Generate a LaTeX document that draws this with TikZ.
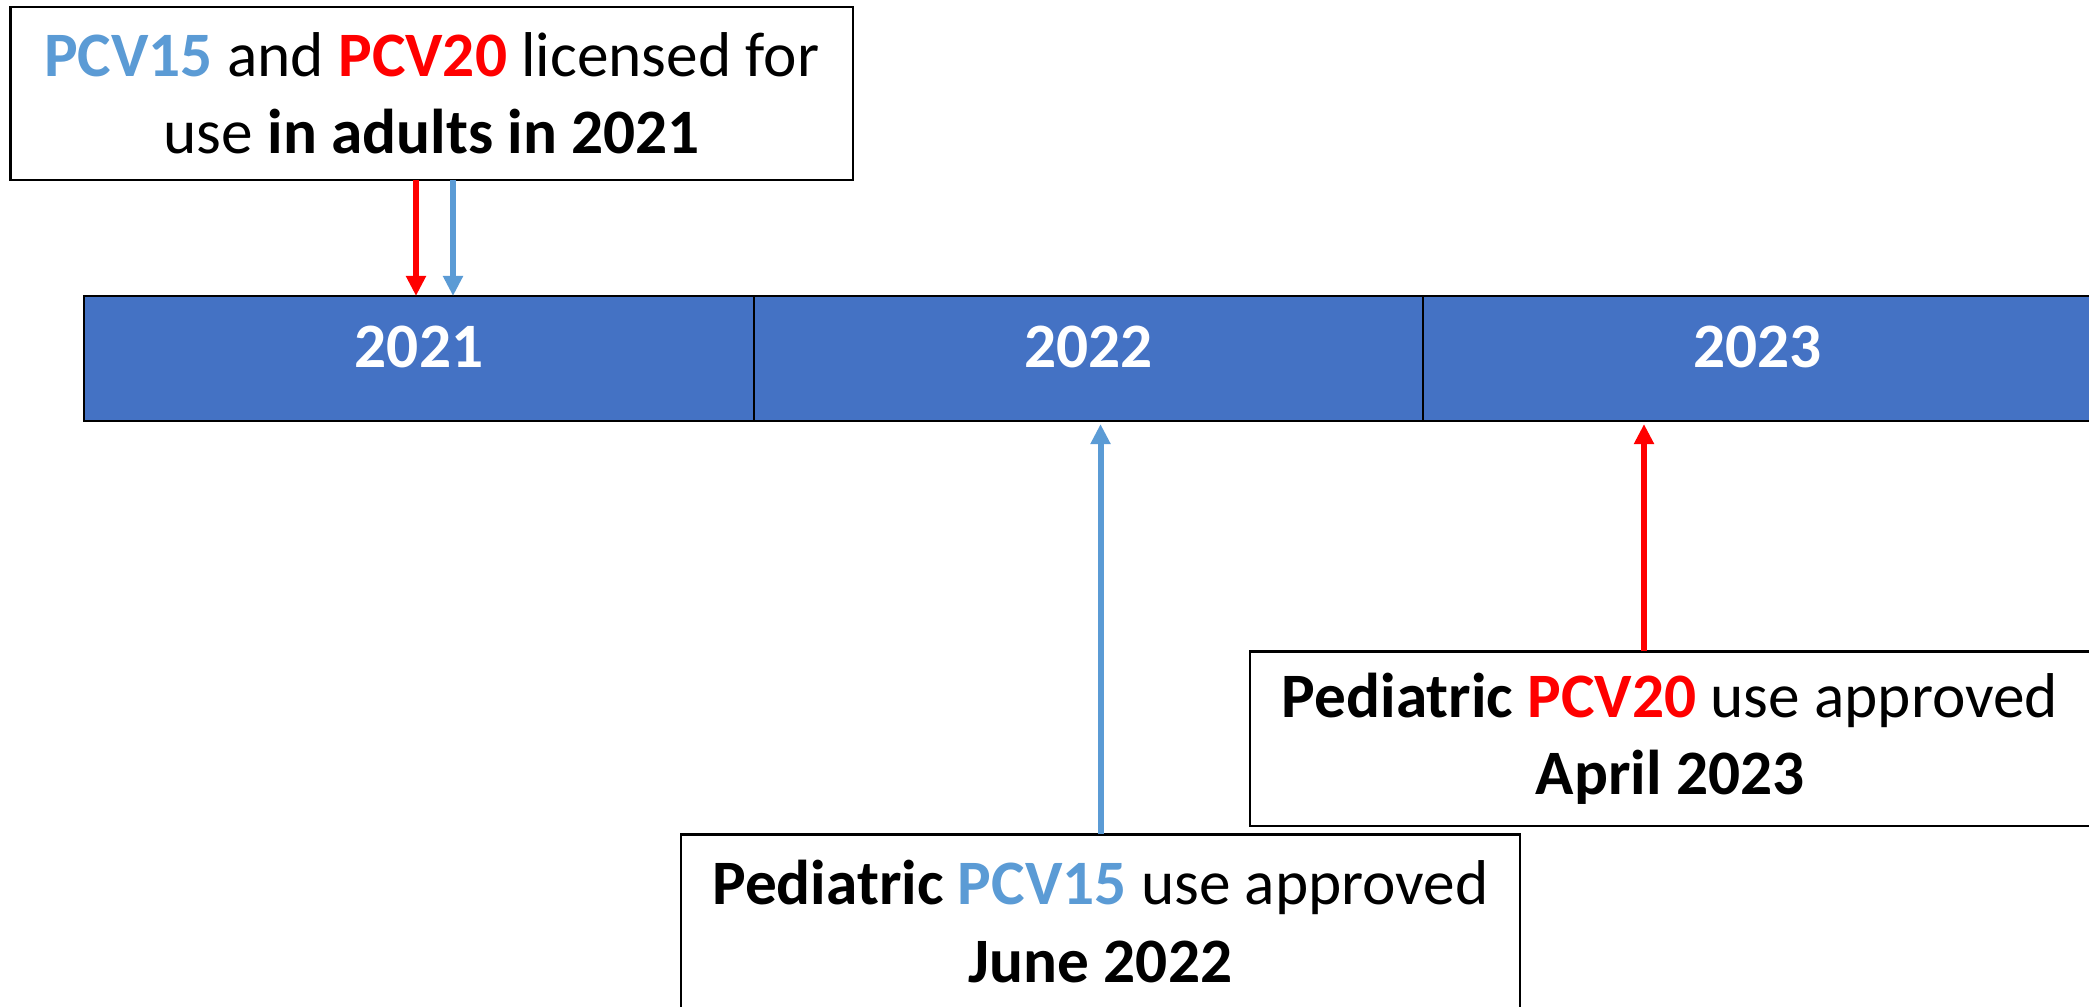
\documentclass[tikz,border=0pt]{standalone}
\usepackage{fontspec}
\setmainfont{Carlito}
\usetikzlibrary{arrows.meta,positioning}
\definecolor{barblue}{HTML}{4472C4}
\definecolor{pcvblue}{HTML}{5B9BD5}
\definecolor{pcvred}{HTML}{FF0000}

\begin{document}
\begin{tikzpicture}[x=0.01cm, y=-0.01cm, every node/.style={font=\fontsize{18}{22}\selectfont, align=center, inner sep=0pt, outer sep=0pt}, year/.style={draw=black, line width=0.65pt, fill=barblue, text=white, font=\fontsize{18}{22}\selectfont\bfseries, text depth=0.24cm, minimum width=6.69cm, minimum height=1.25cm}, note/.style={draw=black, line width=0.6pt, fill=white, minimum height=1.74cm}, arr/.style={line width=1.7pt, -{Triangle[length=0.2cm, width=0.19cm]}}]
\clip (0,0) rectangle (2089,1006);
\node[year] (y21) at (419,358.5) {2021};
\node[year, right=0pt of y21] (y22) {2022};
\node[year, right=0pt of y22] (y23) {2023};
\node[note, minimum width=8.42cm, minimum height=1.73cm] (adult) at (431.7,93.4) {\textcolor{pcvblue}{\bfseries PCV15} and \textcolor{pcvred}{\bfseries PCV20} licensed for\\use \textbf{in adults in 2021}};
\node[note, minimum width=8.4cm] (ped20) at (1670,738.5) {\textbf{Pediatric} \textcolor{pcvred}{\bfseries PCV20} use approved\\\textbf{April 2023}};
\node[note, minimum width=8.39cm] (ped15) at (1100.5,921.5) {\textbf{Pediatric} \textcolor{pcvblue}{\bfseries PCV15} use approved\\\textbf{June 2022}};
\draw[arr, pcvred] ([xshift=-0.157cm]adult.south) -- ([xshift=-0.157cm]adult.south |- y21.north);
\draw[arr, pcvblue] ([xshift=0.213cm]adult.south) -- ([xshift=0.213cm]adult.south |- y21.north);
\draw[arr, pcvblue] (ped15.north) -- ([yshift=-0.03cm]ped15.north |- y22.south);
\draw[arr, pcvred] ([xshift=-0.26cm]ped20.north) -- ([xshift=-0.26cm,yshift=-0.03cm]ped20.north |- y23.south);
\end{tikzpicture}
\end{document}
